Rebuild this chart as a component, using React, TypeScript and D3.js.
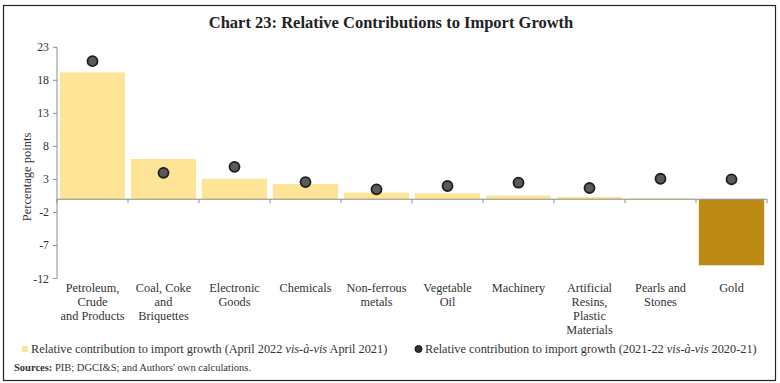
import React from "react";
import * as d3 from "d3";

const categories: string[][] = [
  ["Petroleum,", "Crude", "and Products"],
  ["Coal, Coke", "and", "Briquettes"],
  ["Electronic", "Goods"],
  ["Chemicals"],
  ["Non-ferrous", "metals"],
  ["Vegetable", "Oil"],
  ["Machinery"],
  ["Artificial", "Resins,", "Plastic", "Materials"],
  ["Pearls and", "Stones"],
  ["Gold"],
];
const aprilValues = [19.2, 6.1, 3.1, 2.3, 1.0, 0.9, 0.55, 0.35, 0.15, -10.0];
const fyValues = [20.9, 4.0, 4.9, 2.6, 1.5, 2.0, 2.5, 1.7, 3.1, 3.0];
const yTicks = [23, 18, 13, 8, 3, -2, -7, -12];

const W = 780;
const H = 383;
const font = "'Liberation Serif', serif";

export default function App() {
  const left = 57;
  const right = 767;
  const top = 47.3;
  const bottom = 278.5;
  const x = d3.scaleBand<number>().domain(d3.range(categories.length)).range([left, right]).paddingInner(0.08).paddingOuter(0.04);
  const xb = d3.scaleBand<number>().domain(d3.range(categories.length)).range([left, right]);
  const y = d3.scaleLinear().domain([-12, 23]).range([bottom, top]);
  const y0 = y(0);
  const axisColor = "#8c8c8c";
  return (
    <svg width={W} height={H} style={{ position: "absolute", left: 0, top: 0, background: "#fff" }}>
      <rect x={3.5} y={5.5} width={772} height={375} fill="#fff" stroke="#222" strokeWidth={1.2} />
      <text x={391} y={28} textAnchor="middle" fontFamily={font} fontWeight="bold" fontSize={16.5} fill="#222">
        Chart 23: Relative Contributions to Import Growth
      </text>
      {/* y axis */}
      <line x1={left} x2={left} y1={top} y2={bottom} stroke={axisColor} />
      {yTicks.map((t) => (
        <g key={t}>
          <line x1={left - 4} x2={left} y1={y(t)} y2={y(t)} stroke={axisColor} />
          <text x={left - 8} y={y(t) + 4} textAnchor="end" fontFamily={font} fontSize={11.8} fill="#333">
            {t}
          </text>
        </g>
      ))}
      <text transform={`translate(31,177) rotate(-90)`} textAnchor="middle" fontFamily={font} fontSize={12.5} fill="#333">
        Percentage points
      </text>
      {/* bars */}
      {aprilValues.map((v, i) => (
        <rect
          key={i}
          x={x(i)!}
          width={x.bandwidth()}
          y={Math.min(y(v), y0)}
          height={Math.abs(y(v) - y0)}
          fill={v < 0 ? "#BC8A15" : "#FDE497"}
        />
      ))}
      {/* x axis */}
      <line x1={left} x2={right} y1={y0} y2={y0} stroke={axisColor} />
      {d3.range(categories.length + 1).map((i) => {
        const px = i < categories.length ? xb(i)! : right;
        return <line key={i} x1={px} x2={px} y1={y0} y2={y0 + 4} stroke={axisColor} />;
      })}
      {/* dots */}
      {fyValues.map((v, i) => (
        <circle key={i} cx={xb(i)! + xb.bandwidth() / 2} cy={y(v)} r={5} fill="#5a5a5a" stroke="#1e1e1e" strokeWidth={1.8} />
      ))}
      {/* category labels */}
      {categories.map((lines, i) => (
        <text key={i} textAnchor="middle" fontFamily={font} fontSize={12.3} fill="#333">
          {lines.map((l, j) => (
            <tspan key={j} x={xb(i)! + xb.bandwidth() / 2} y={292 + j * 14}>
              {l}
            </tspan>
          ))}
        </text>
      ))}
      {/* legend */}
      <rect x={22} y={346} width={6} height={6} fill="#FDE497" />
      <text x={31} y={353} fontFamily={font} fontSize={12.3} fill="#333">
        Relative contribution to import growth (April 2022 <tspan fontStyle="italic">vis-à-vis</tspan> April 2021)
      </text>
      <circle cx={418.5} cy={349} r={3.5} fill="#333" stroke="#111" />
      <text x={425} y={353} fontFamily={font} fontSize={12.3} fill="#333">
        Relative contribution to import growth (2021-22 <tspan fontStyle="italic">vis-à-vis</tspan> 2020-21)
      </text>
      <text x={14} y={371} fontFamily={font} fontSize={10.5} fill="#333">
        <tspan fontWeight="bold">Sources:</tspan> PIB; DGCI&amp;S; and Authors' own calculations.
      </text>
    </svg>
  );
}
